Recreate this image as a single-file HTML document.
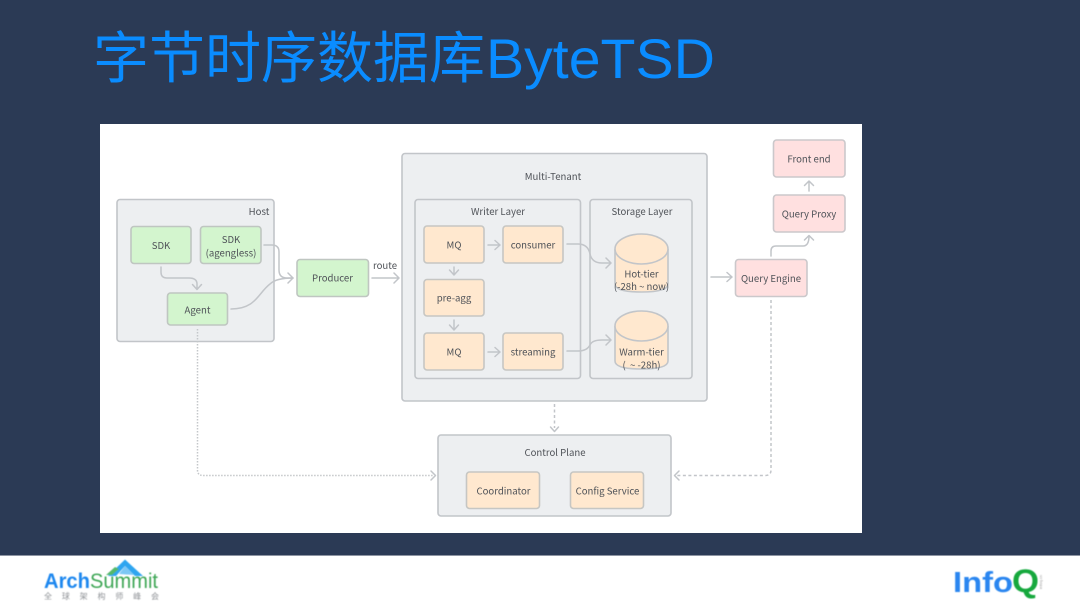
<!DOCTYPE html>
<html><head><meta charset="utf-8"><style>
html,body{margin:0;padding:0;width:1080px;height:608px;overflow:hidden;background:#2b3a55}
svg{display:block}
.c{font-family:"Noto Sans CJK SC","Liberation Sans",sans-serif}
.t{font-family:"Noto Sans CJK SC","Liberation Sans",sans-serif;font-size:9.6px;fill:#4f5258;text-anchor:middle}
.g{fill:#edeff1;stroke:#c2c5c9;stroke-width:1.6}
.gr{fill:#d3f5ce;stroke:#bfc6c1;stroke-width:1.6}
.o{fill:#ffe8cf;stroke:#c6c6c3;stroke-width:1.6}
.r{fill:#ffe0e0;stroke:#cbc8cb;stroke-width:1.6}
.l{fill:none;stroke:#c2c5c9;stroke-width:1.5;stroke-linecap:round;stroke-linejoin:round}
.d{fill:none;stroke:#c4c7ca;stroke-width:1.5;stroke-dasharray:1.5 1.5}
.e{fill:none;stroke:#c2c5c9;stroke-width:1.5;stroke-dasharray:3 2.5}
</style></head><body>
<svg width="1080" height="608" viewBox="0 0 1080 608" xmlns="http://www.w3.org/2000/svg">
<defs>
<filter id="b" filterUnits="userSpaceOnUse" x="100" y="124" width="762" height="409"><feGaussianBlur stdDeviation="0.35"/></filter>
<filter id="b2" filterUnits="userSpaceOnUse" x="0" y="556" width="1080" height="52"><feGaussianBlur stdDeviation="0.4"/></filter>
</defs>
<rect width="1080" height="608" fill="#2b3a55"/>
<text class="c" x="93" y="78" font-size="56" fill="#0a8cff" font-weight="400">字节时序数据库</text>
<text x="486" y="78" font-family="Liberation Sans,sans-serif" font-size="56" fill="#0a8cff" textLength="229" lengthAdjust="spacingAndGlyphs">ByteTSD</text>
<rect x="100" y="124" width="762" height="409" fill="#fff"/>
<rect x="0" y="555" width="1080" height="1" fill="#8e95a3"/>
<rect x="0" y="556" width="1080" height="52" fill="#fff"/>

<g filter="url(#b)">
<rect class="g" x="117" y="199.500" width="157" height="142" rx="3"/>
<text class="t" x="259" y="215">Host</text>
<rect class="gr" x="131" y="226.500" width="60" height="37" rx="3"/>
<text class="t" x="161" y="249">SDK</text>
<rect class="gr" x="200.500" y="226.500" width="60.500" height="37" rx="3"/>
<text class="t" x="231" y="243">SDK</text>
<text class="t" x="231" y="256.500">(agengless)</text>
<rect class="gr" x="167.500" y="293" width="60" height="32" rx="3"/>
<text class="t" x="197.500" y="313.500">Agent</text>
<rect class="gr" x="297" y="259.500" width="71.500" height="37" rx="3"/>
<text class="t" x="332.500" y="281.500">Producer</text>
<text class="t" x="385" y="269">route</text>

<rect class="g" x="402" y="153.500" width="305" height="247.500" rx="3"/>
<text class="t" x="553" y="180">Multi-Tenant</text>
<rect class="g" x="415" y="199.500" width="165.500" height="179" rx="3"/>
<text class="t" x="498" y="215">Writer Layer</text>
<rect class="g" x="590" y="199.500" width="102" height="179" rx="3"/>
<text class="t" x="642" y="215">Storage Layer</text>

<rect class="o" x="424" y="226" width="60" height="37" rx="3"/><text class="t" x="454" y="248.500">MQ</text>
<rect class="o" x="503" y="226" width="60" height="37" rx="3"/><text class="t" x="533" y="248.500">consumer</text>
<rect class="o" x="424" y="279.500" width="60" height="36.500" rx="3"/><text class="t" x="454" y="301.500">pre-agg</text>
<rect class="o" x="424" y="333" width="60" height="37" rx="3"/><text class="t" x="454" y="355.500">MQ</text>
<rect class="o" x="503" y="333" width="60" height="37" rx="3"/><text class="t" x="533" y="355.500">streaming</text>

<path d="M615 249V284Q615 292 641.500 292T668 284V249" fill="#ffe8cf" stroke="#c2c5c9" stroke-width="1.6"/>
<ellipse cx="641.500" cy="249" rx="26.500" ry="15" fill="#ffe8cf" stroke="#c2c5c9" stroke-width="1.6"/>
<text class="t" x="641.500" y="277.500">Hot-tier</text>
<text class="t" x="641.500" y="290">(-28h ~ now)</text>
<path d="M615 326V361Q615 369 641.500 369T668 361V326" fill="#ffe8cf" stroke="#c2c5c9" stroke-width="1.6"/>
<ellipse cx="641.500" cy="326" rx="26.500" ry="15" fill="#ffe8cf" stroke="#c2c5c9" stroke-width="1.6"/>
<text class="t" x="641.500" y="355.500">Warm-tier</text>
<text class="t" x="641.500" y="368.500">(&#160;&#160;~ -28h)</text>

<rect class="r" x="773.500" y="140" width="71.500" height="37" rx="3"/><text class="t" x="809" y="162.500">Front end</text>
<rect class="r" x="773.500" y="195" width="71.500" height="37" rx="3"/><text class="t" x="809" y="217.500">Query Proxy</text>
<rect class="r" x="735.500" y="259.500" width="71.500" height="37" rx="3"/><text class="t" x="771" y="282">Query Engine</text>

<rect class="g" x="438" y="435" width="233" height="81" rx="3"/>
<text class="t" x="555" y="456">Control Plane</text>
<rect class="o" x="466.500" y="472" width="73" height="36.500" rx="3"/><text class="t" x="503.500" y="494.500">Coordinator</text>
<rect class="o" x="570.500" y="472" width="73" height="36.500" rx="3"/><text class="t" x="607.500" y="494.500">Config Service</text>

<!-- connectors -->
<path class="l" d="M161 267V272Q161 278 167 278H189Q197 278 197 284V289M192.500 284.500L197 289.500L201.500 284.500"/>
<path class="l" d="M264 245H272Q279 245 279 252V270Q279 278 287 278H293"/>
<path class="l" d="M231 309C256 309 258 293 270 284Q276 278 293 278M288 273L293 278L288 283"/>
<path class="l" d="M372 278H399M394 273L399 278L394 283"/>
<path class="l" d="M488 245H500M495 240.500L500 245L495 249.500"/>
<path class="l" d="M488 352H500M495 347.500L500 352L495 356.500"/>
<path class="l" d="M454 267V274M449.500 270L454 275L458.500 270"/>
<path class="l" d="M454 320V329M449.500 325L454 330L458.500 325"/>
<path class="l" d="M567 244H578Q588 244 590 254Q592 263 602 263H611M606 258L611 263L606 268"/>
<path class="l" d="M567 351H578Q587 351 590 345Q592 340 602 340H611M606 335L611 340L606 345"/>
<path class="l" d="M711 277H732M727 272.500L732 277L727 281.500"/>
<path class="l" d="M771 256V251Q771 246 776 246H803Q809 246 809 236M804.500 240L809 235.500L813.500 240"/>
<path class="l" d="M809 191V181M804.500 185.500L809 181L813.500 185.500"/>
<path class="e" d="M554.500 404V428"/>
<path class="l" d="M550.500 427L554.500 431.500L558.500 427"/>
<path class="d" d="M197.500 329V470Q197.500 475.500 203 475.500H433"/>
<path class="l" d="M431 471L435.500 475.500L431 480"/>
<path class="e" d="M771 300V470Q771 475.500 765.500 475.500H677"/>
<path class="l" d="M679 471L674.500 475.500L679 480"/>
</g>

<!-- logos -->
<g filter="url(#b2)">
<path d="M108 576L125 559.500L143 576H135L125 566L116 576Z" fill="#2ea5f0"/>
<path d="M119 574L125 566L134 575Z" fill="#7cc7f5"/>
<path d="M106 575L115 567L119 569L112 575Z" fill="#55b86a"/>
<text x="44" y="588" font-family="Liberation Sans,sans-serif" font-size="21" font-weight="700" fill="#1f87ef" textLength="46" lengthAdjust="spacingAndGlyphs">Arch</text>
<text x="90" y="588" font-family="Liberation Sans,sans-serif" font-size="21" fill="#3ea655" textLength="68" lengthAdjust="spacingAndGlyphs">Summit</text>
<text x="44" y="599" font-family="Liberation Sans,'Noto Sans CJK SC',sans-serif" font-size="8" fill="#8f9296" textLength="115">全球架构师峰会</text>
<text x="953" y="592" font-family="Liberation Sans,sans-serif" font-size="29" font-weight="700" fill="#2a86f0" textLength="60" lengthAdjust="spacingAndGlyphs">Info</text>
<text x="1012" y="592" font-family="Liberation Sans,sans-serif" font-size="32" font-weight="700" fill="#12a83c" textLength="27" lengthAdjust="spacingAndGlyphs">Q</text>
<text x="0" y="0" transform="translate(1042,589) rotate(-90)" font-family="Liberation Sans,sans-serif" font-size="4" fill="#9a9a9a">infoq.cn</text>
</g>
</svg>
</body></html>
